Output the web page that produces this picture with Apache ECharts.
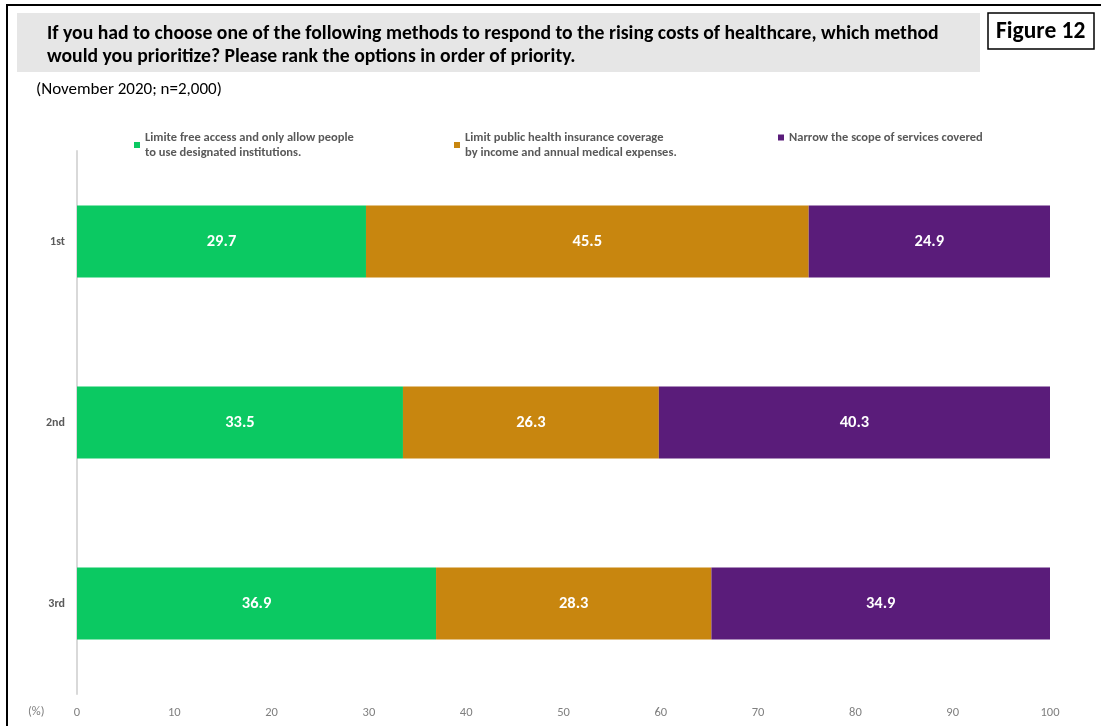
<!DOCTYPE html>
<html>
<head>
<meta charset="utf-8">
<script src="https://cdn.jsdelivr.net/npm/echarts@6/dist/echarts.min.js"></script>
<style>
  html, body { margin: 0; padding: 0; background: #fff; }
  #chart { width: 1101px; height: 726px; }
</style>
</head>
<body>
<div id="chart"></div>
<script>
// Survey ranks (rows) and the share of respondents choosing each method (%)
const ranks = ['1st', '2nd', '3rd'];
const methodNames = [
  'Limite free access and only allow people to use designated institutions.',
  'Limit public health insurance coverage by income and annual medical expenses.',
  'Narrow the scope of services covered'
];
const legendLines = [
  'Limite free access and only allow people\nto use designated institutions.',
  'Limit public health insurance coverage\nby income and annual medical expenses.',
  'Narrow the scope of services covered'
];
const freeAccess = [29.7, 33.5, 36.9];
const insuranceLimit = [45.5, 26.3, 28.3];
const narrowScope = [24.9, 40.3, 34.9];
const xTicks = [0, 10, 20, 30, 40, 50, 60, 70, 80, 90, 100];
const colors = ['#0bc962', '#c8860f', '#5a1c7a'];

const FONT = "Carlito, 'Liberation Sans Narrow', 'Noto Sans', sans-serif";
const seriesValues = [freeAccess, insuranceLimit, narrowScope];

const chart = echarts.init(document.getElementById('chart'), null, { renderer: 'canvas' });

const legendX = [134, 454, 778];
const legends = methodNames.map((name, i) => ({
  data: [name],
  left: legendX[i],
  top: 123,
  padding: 0,
  orient: 'horizontal',
  icon: 'rect',
  itemWidth: 6,
  itemHeight: 6,
  itemGap: 4,
  selectedMode: false,
  textStyle: {
    fontFamily: FONT,
    fontSize: 12.5,
    fontWeight: 'bold',
    color: '#595959',
    lineHeight: 15,
    padding: [14, 0, 0, 0]
  },
  formatter: () => legendLines[i]
}));

const option = {
  animation: false,
  backgroundColor: '#ffffff',
  legend: legends,
  grid: { left: 77, right: 51, top: 151, bottom: 32, containLabel: false },
  xAxis: {
    type: 'value',
    min: 0,
    max: 100,
    interval: 10,
    axisLine: { show: false },
    axisTick: { show: false },
    splitLine: { show: false },
    axisLabel: {
      margin: 12,
      fontFamily: FONT,
      fontSize: 12.5,
      color: '#7f7f7f',
      formatter: v => (xTicks.includes(v) ? String(v) : '')
    }
  },
  yAxis: {
    type: 'category',
    data: ranks,
    inverse: true,
    axisLine: { show: true, lineStyle: { color: '#d9d9d9', width: 2 } },
    axisTick: { show: false },
    axisLabel: {
      margin: 12,
      fontFamily: FONT,
      fontSize: 12,
      fontWeight: 'bold',
      color: '#595959'
    }
  },
  series: methodNames.map((name, i) => ({
    name: name,
    type: 'bar',
    stack: 'total',
    barWidth: 72,
    data: seriesValues[i],
    itemStyle: { color: colors[i] },
    label: {
      show: true,
      position: 'inside',
      formatter: p => p.value.toFixed(1),
      fontFamily: FONT,
      fontSize: 16.5,
      fontWeight: 'bold',
      color: '#ffffff'
    }
  })),
  graphic: [
    // outer frame lines
    { type: 'rect', shape: { x: 6, y: 4, width: 1101, height: 2 }, style: { fill: '#000' } },
    { type: 'rect', shape: { x: 6, y: 4, width: 2, height: 730 }, style: { fill: '#000' } },
    // question banner
    { type: 'rect', shape: { x: 17, y: 13, width: 963, height: 59 }, style: { fill: '#e6e6e6' } },
    {
      type: 'text', left: 47, top: 23,
      style: {
        text: 'If you had to choose one of the following methods to respond to the rising costs of healthcare, which method\nwould you prioritize? Please rank the options in order of priority.',
        font: "bold 19.7px " + FONT,
        fill: '#000',
        lineHeight: 23
      }
    },
    // figure badge
    { type: 'rect', shape: { x: 988, y: 13, width: 106, height: 36 }, style: { fill: '#fff', stroke: '#000', lineWidth: 1.5 } },
    {
      type: 'text', left: 996, top: 20,
      style: { text: 'Figure 12', font: "bold 23.5px " + FONT, fill: '#000' }
    },
    {
      type: 'text', left: 36, top: 81,
      style: { text: '(November 2020; n=2,000)', font: "17px " + FONT, fill: '#000' }
    },
    {
      type: 'text', left: 28, top: 705,
      style: { text: '(%)', font: "12.5px " + FONT, fill: '#7f7f7f' }
    }
  ]
};

chart.setOption(option);
</script>
</body>
</html>
